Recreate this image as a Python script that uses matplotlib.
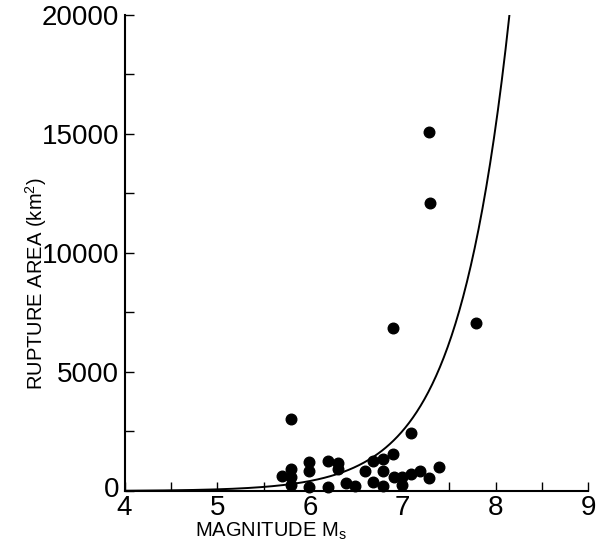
import numpy as np
import matplotlib
matplotlib.use("Agg")
import matplotlib.pyplot as plt
import matplotlib.transforms as mtransforms
from matplotlib.ticker import MultipleLocator

plt.rcParams['font.family'] = ['Liberation Sans', 'DejaVu Sans']

# earthquakes: surface-wave magnitude vs rupture area (km^2)
magnitude = [7.28, 7.29, 6.89, 7.79, 5.80,
             5.99, 5.99, 6.19, 6.30, 6.30,
             5.70, 5.80, 5.80, 5.80, 5.99,
             6.19, 6.39, 6.49, 7.09, 6.89,
             6.79, 6.68, 6.59, 6.79, 6.68,
             6.79, 6.90, 6.99, 6.99, 7.09,
             7.19, 7.28, 7.39]
area = [15100, 12100, 6830, 7050, 3030,
        1220, 840, 1240, 1190, 910,
        630, 930, 580, 250, 150,
        150, 320, 210, 2430, 1550,
        1340, 1240, 860, 820, 390,
        210, 600, 600, 250, 720,
        860, 560, 1000]

# fitted relation log10(A) = slope * Ms + intercept
fit_slope = 0.78
fit_intercept = -2.056

x_ticks = [4, 5, 6, 7, 8, 9]
y_ticks = [0, 5000, 10000, 15000, 20000]

fig = plt.figure(figsize=(5.96, 5.52), dpi=100)
ax = fig.add_axes([0.209, 0.1105, 0.778, 0.8625])

m_end = (np.log10(20000) - fit_intercept) / fit_slope
m_fit = np.linspace(4, m_end, 300)
ax.plot(m_fit, 10 ** (fit_slope * m_fit + fit_intercept), color='black', lw=1.4)

ax.scatter(magnitude, area, s=58, color='black', zorder=3, clip_on=False)

ax.set_xlim(4, 9)
ax.set_ylim(0, 20000)
ax.set_xticks(x_ticks)
ax.set_yticks(y_ticks)
ax.xaxis.set_minor_locator(MultipleLocator(0.5))
ax.yaxis.set_minor_locator(MultipleLocator(2500))

for s in ['top', 'right']:
    ax.spines[s].set_visible(False)
for s in ['left', 'bottom']:
    ax.spines[s].set_linewidth(1.5)

ax.tick_params(which='both', direction='in', length=6.5, width=1.0)
ax.tick_params(axis='both', which='major', labelsize=20)
ax.tick_params(axis='y', pad=4)
ax.tick_params(axis='x', pad=3)

# nudge the "0" up a little so it sits clear of the "4", as in the original
zero_label = ax.get_yticklabels()[0]
zero_label.set_transform(zero_label.get_transform() +
                         mtransforms.ScaledTranslation(0, 3 / 72, fig.dpi_scale_trans))

ax.set_xlabel('MAGNITUDE M$_\\mathregular{s}$', fontsize=14.5)
ax.set_ylabel('RUPTURE AREA (km$^\\mathregular{2}$)', fontsize=14.5)
ax.xaxis.set_label_coords(0.316, -0.063)
ax.yaxis.set_label_coords(-0.163, 0.435)

fig.savefig('out.png', dpi=100)
